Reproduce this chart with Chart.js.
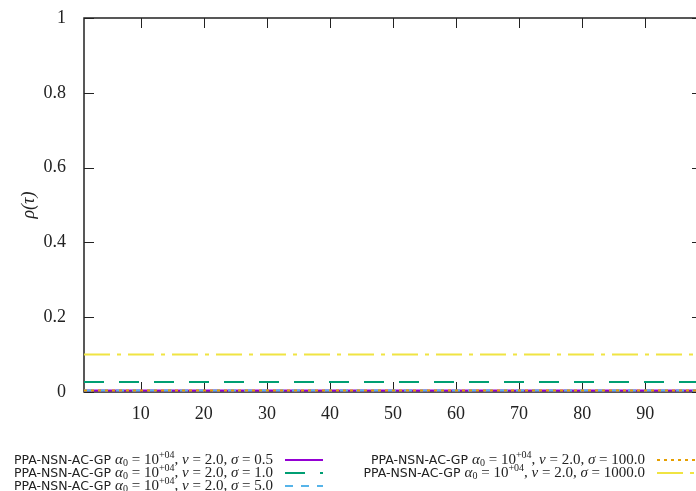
<!DOCTYPE html>
<html>
<head>
<meta charset="utf-8">
<script src="https://cdn.jsdelivr.net/npm/chart.js@4/dist/chart.umd.min.js"></script>
<style>
  html, body { margin: 0; padding: 0; background: #fff; overflow: hidden; }
  #wrap { width: 712px; height: 491px; }
</style>
</head>
<body>
<div id="wrap"><canvas id="result" width="712" height="491"></canvas></div>
<script>
// tau range of the profile and rho per solver (flat profiles)
const taus = [1, 100];
const rhoSigma05 = [0.004, 0.004];
const rhoSigma1 = [0.027, 0.027];
const rhoSigma5 = [0.004, 0.004];
const rhoSigma100 = [0.004, 0.004];
const rhoSigma1000 = [0.1, 0.1];

const sigmas = ['0.5', '1.0', '5.0', '100.0', '1000.0'];
const xTicks = [10, 20, 30, 40, 50, 60, 70, 80, 90];
const yTicks = [0, 0.2, 0.4, 0.6, 0.8, 1];

const colors = {
    purple: 'rgb(148, 0, 211)',
    green: 'rgb(0, 158, 115)',
    blue: 'rgb(86, 180, 233)',
    orange: 'rgb(230, 159, 0)',
    yellow: 'rgb(240, 228, 66)'
};

const styles = [
    { color: colors.purple, dash: [] },
    { color: colors.green, dash: [20, 15] },
    { color: colors.blue, dash: [8, 8] },
    { color: colors.orange, dash: [3, 4] },
    { color: colors.yellow, dash: [26, 7, 4, 7] }
];

const allRho = [rhoSigma05, rhoSigma1, rhoSigma5, rhoSigma100, rhoSigma1000];

// later series are drawn on top, like gnuplot
const datasets = allRho.map((rho, i) => ({
    label: 'sigma ' + sigmas[i],
    data: taus.map((t, j) => ({ x: t, y: rho[j] })),
    borderColor: styles[i].color,
    borderDash: styles[i].dash,
    borderWidth: 2,
    pointRadius: 0,
    fill: false,
    tension: 0,
    order: -i
}));

const SERIF = '"Liberation Serif", "DejaVu Serif", serif';
const SANS = '"DejaVu Sans", "Liberation Sans", sans-serif';

// draw a run of text pieces, right-aligned at x
function richText(ctx, pieces, xRight, y) {
    let w = 0;
    pieces.forEach(p => { ctx.font = p.font; w += ctx.measureText(p.t).width; });
    let x = xRight - w;
    ctx.textBaseline = 'alphabetic';
    ctx.textAlign = 'left';
    pieces.forEach(p => {
        ctx.font = p.font;
        ctx.fillText(p.t, x, y + (p.dy || 0));
        x += ctx.measureText(p.t).width;
    });
}

function legendPieces(sigma) {
    const it = 'italic 15px ' + SERIF;
    const rm = '15px ' + SERIF;
    const sm = '10px ' + SERIF;
    return [
        { t: 'PPA-NSN-AC-GP ', font: '12.5px ' + SANS },
        { t: 'α', font: it }, { t: '0', font: sm, dy: 2 },
        { t: ' = 10', font: rm }, { t: '+04', font: sm, dy: -6 },
        { t: ', ', font: rm }, { t: 'ν', font: it }, { t: ' = 2.0, ', font: rm },
        { t: 'σ', font: it }, { t: ' = ' + sigma, font: rm }
    ];
}

const framePlugin = {
    id: 'frame',
    beforeDatasetsDraw(chart) {
        const ctx = chart.ctx;
        const a = chart.chartArea;
        const xs = chart.scales.x, ys = chart.scales.y;
        ctx.save();
        ctx.strokeStyle = '#222';
        ctx.lineWidth = 1.5;
        ctx.setLineDash([]);
        ctx.strokeRect(a.left, a.top, a.right - a.left, a.bottom - a.top);
        ctx.lineWidth = 1;
        ctx.beginPath();
        xTicks.forEach(v => {
            const px = Math.round(xs.getPixelForValue(v)) + 0.5;
            ctx.moveTo(px, a.bottom); ctx.lineTo(px, a.bottom - 10);
            ctx.moveTo(px, a.top); ctx.lineTo(px, a.top + 10);
        });
        yTicks.forEach(v => {
            const py = Math.round(ys.getPixelForValue(v)) + 0.5;
            ctx.moveTo(a.left, py); ctx.lineTo(a.left + 10, py);
            ctx.moveTo(a.right, py); ctx.lineTo(a.right - 10, py);
        });
        ctx.stroke();
        ctx.restore();
    },
    afterDraw(chart) {
        const ctx = chart.ctx;
        // legend, two columns at the bottom
        const cols = [
            { xText: 273, xLine: 285, wLine: 38 },
            { xText: 645, xLine: 657, wLine: 40 }
        ];
        const rowsY = [460, 473, 486];
        ctx.save();
        ctx.fillStyle = '#222';
        datasets.forEach((ds, i) => {
            const c = cols[i < 3 ? 0 : 1];
            const y = rowsY[i < 3 ? i : i - 3];
            richText(ctx, legendPieces(sigmas[i]), c.xText, y + 4);
            ctx.strokeStyle = ds.borderColor;
            ctx.lineWidth = 2;
            ctx.setLineDash(ds.borderDash);
            ctx.beginPath();
            ctx.moveTo(c.xLine, y); ctx.lineTo(c.xLine + c.wLine, y);
            ctx.stroke();
        });
        ctx.restore();
    }
};

new Chart(document.getElementById('result').getContext('2d'), {
    type: 'line',
    data: { datasets },
    options: {
        responsive: false,
        animation: false,
        layout: { padding: { left: 0, right: 10, top: 18, bottom: 69 } },
        plugins: { legend: { display: false }, tooltip: { enabled: false } },
        scales: {
            x: {
                type: 'linear',
                min: 1,
                max: 99,
                grid: { display: false },
                border: { display: false },
                afterBuildTicks: s => { s.ticks = xTicks.map(v => ({ value: v })); },
                afterFit: s => { s.height = 30; s.paddingLeft = 0; s.paddingRight = 0; },
                ticks: { color: '#222', font: { family: SERIF, size: 18 }, padding: 3, maxRotation: 0 }
            },
            y: {
                min: 0,
                max: 1,
                grid: { display: false },
                border: { display: false },
                afterBuildTicks: s => { s.ticks = yTicks.map(v => ({ value: v })); },
                afterFit: s => { s.width = 84; s.paddingTop = 0; s.paddingBottom = 0; },
                ticks: { color: '#222', font: { family: SERIF, size: 18 }, padding: 10,
                         callback: v => String(v) },
                title: { display: true, text: 'ρ(τ)', color: '#222',
                         font: { family: SERIF, size: 18, style: 'italic' }, padding: { top: 18, bottom: 0 } }
            }
        }
    },
    plugins: [framePlugin]
});
</script>
</body>
</html>
